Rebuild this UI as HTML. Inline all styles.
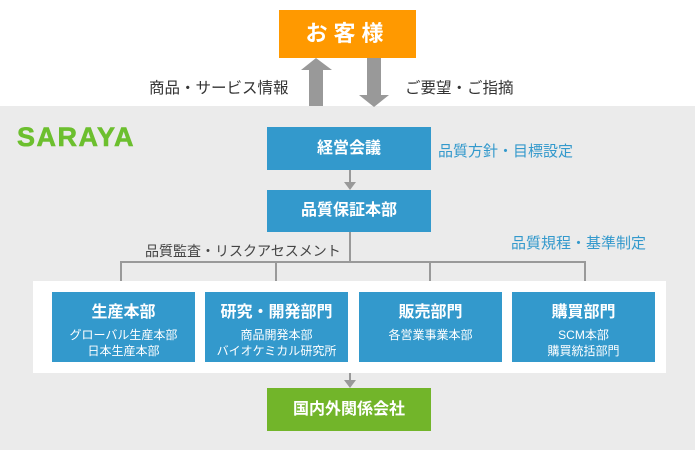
<!DOCTYPE html>
<html><head><meta charset="utf-8"><style>
*{margin:0;padding:0;box-sizing:border-box}
body{width:695px;height:450px;position:relative;background:#fff;font-family:"Liberation Sans","Noto Sans CJK JP",sans-serif;overflow:hidden}
.a{position:absolute}
.bx{position:absolute;color:#fff;text-align:center;font-weight:bold}
.t{position:absolute;font-size:15px;white-space:nowrap;line-height:16px}
.dep{position:absolute;top:292px;height:70px;background:#3399cc;color:#fff;text-align:center}
.dep b{display:block;font-size:16px;margin-top:11px;line-height:20px;margin-bottom:4px}
.dep span{display:block;font-size:12px;line-height:16px}
</style></head><body>
<div class="a" style="left:0;top:106px;width:695px;height:344px;background:#ebebeb"></div>
<div class="bx" style="left:279px;top:10px;width:137px;height:48px;background:#ff9900;font-size:22px;line-height:48px;letter-spacing:6px">お客様</div>
<svg class="a" style="left:0;top:0" width="695" height="450">
<polygon points="309,106 323,106 323,70 332,70 316,58 301,70 309,70" fill="#999"/>
<polygon points="367,58 381,58 381,95 389,95 374,107 359,95 367,95" fill="#999"/>
<g stroke="#999" stroke-width="2" fill="none">
<line x1="350" y1="170" x2="350" y2="183"/>
<line x1="350" y1="232" x2="350" y2="262"/>
<line x1="120" y1="262" x2="586" y2="262"/>
<line x1="121" y1="262" x2="121" y2="284"/>
<line x1="276" y1="262" x2="276" y2="284"/>
<line x1="430" y1="262" x2="430" y2="284"/>
<line x1="585" y1="262" x2="585" y2="284"/>
<line x1="350" y1="373" x2="350" y2="381"/>
</g>
<g fill="#999">
<polygon points="344,182 356,182 350,190"/>
<polygon points="115,283 127,283 121,291"/>
<polygon points="270,283 282,283 276,291"/>
<polygon points="424,283 436,283 430,291"/>
<polygon points="579,283 591,283 585,291"/>
<polygon points="344,380 356,380 350,388"/>
</g>
</svg>
<div class="t" style="left:149px;top:81px;color:#333;font-size:15.5px">商品・サービス情報</div>
<div class="t" style="left:405px;top:81px;color:#333;font-size:15.5px">ご要望・ご指摘</div>
<div class="a" style="left:17px;top:122px;font-size:27px;font-weight:900;color:#6cbf2e;letter-spacing:1.5px;line-height:30px;-webkit-text-stroke:0.6px #6cbf2e">SARAYA</div>
<div class="bx" style="left:267px;top:127px;width:164px;height:43px;background:#3399cc;font-size:16px;line-height:43px">経営会議</div>
<div class="t" style="left:438px;top:144px;color:#3399cc">品質方針・目標設定</div>
<div class="bx" style="left:267px;top:190px;width:164px;height:42px;background:#3399cc;font-size:16px;line-height:42px">品質保証本部</div>
<div class="t" style="left:145px;top:243px;color:#444;font-size:14px">品質監査・リスクアセスメント</div>
<div class="t" style="left:511px;top:236px;color:#3399cc">品質規程・基準制定</div>
<div class="a" style="left:33px;top:281px;width:633px;height:92px;background:#fff"></div>
<div class="dep" style="left:52px;width:143px"><b>生産本部</b><span>グローバル生産本部</span><span>日本生産本部</span></div>
<div class="dep" style="left:205px;width:143px"><b>研究・開発部門</b><span>商品開発本部</span><span>バイオケミカル研究所</span></div>
<div class="dep" style="left:359px;width:143px"><b>販売部門</b><span>各営業事業本部</span></div>
<div class="dep" style="left:512px;width:143px"><b>購買部門</b><span>SCM本部</span><span>購買統括部門</span></div>
<div class="bx" style="left:267px;top:388px;width:164px;height:43px;background:#72b52a;font-size:16px;line-height:43px">国内外関係会社</div>
</body></html>
